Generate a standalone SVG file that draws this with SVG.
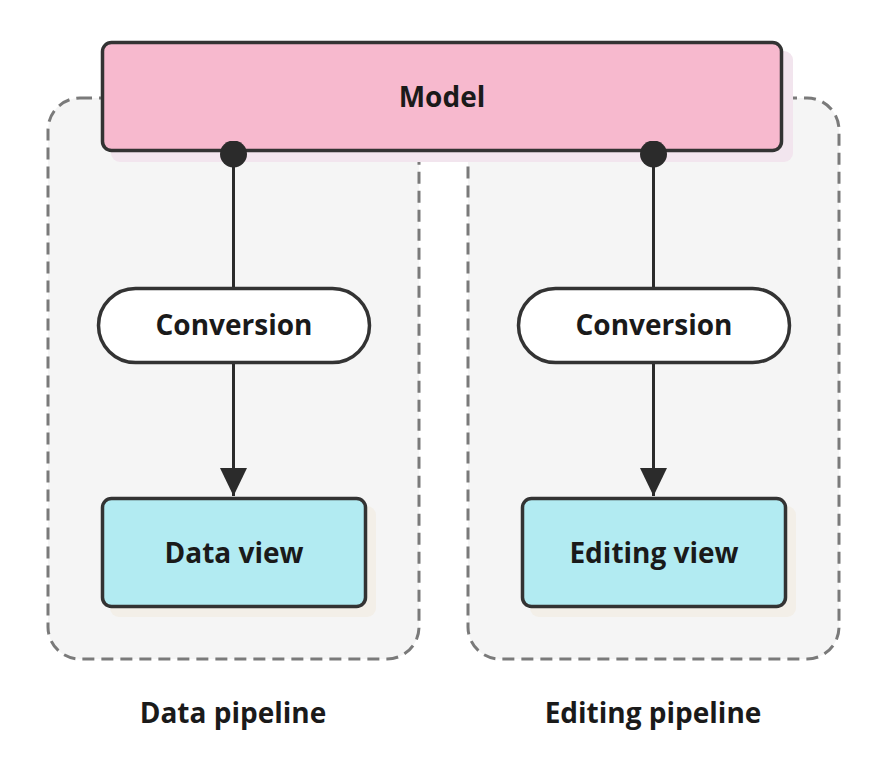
<svg xmlns="http://www.w3.org/2000/svg" width="888" height="762" viewBox="0 0 888 762">
<defs>
<style>
.container{fill:#f5f5f5;stroke:#7a7a7a;stroke-width:3;stroke-dasharray:12 7}
.node{stroke:#333333;stroke-width:3.5}
.label{font-family:"Open Sans","Noto Sans",sans-serif;font-weight:700;font-size:28px;fill:#1a1a1a;text-anchor:middle;dominant-baseline:central}
.edge{stroke:#2b2b2b;stroke-width:3;fill:none}
</style>
<marker id="arrow" viewBox="0 0 28 27" refX="28" refY="13.5" markerWidth="28" markerHeight="27" markerUnits="userSpaceOnUse" orient="auto">
<path d="M0,0 L28,13.5 L0,27 Z" fill="#2b2b2b"/>
</marker>
<marker id="dot" viewBox="0 0 27 27" refX="13.5" refY="13.5" markerWidth="27" markerHeight="27" markerUnits="userSpaceOnUse">
<circle cx="13.5" cy="13.5" r="13.5" fill="#2b2b2b"/>
</marker>
</defs>
<rect width="888" height="762" fill="#ffffff"/>
<g id="data-pipeline">
<rect class="container" x="48" y="98" width="371" height="561" rx="32"/>
<text class="label" x="233" y="712">Data pipeline</text>
</g>
<g id="editing-pipeline">
<rect class="container" x="468" y="98" width="371" height="561" rx="32"/>
<text class="label" x="653" y="712">Editing pipeline</text>
</g>
<g id="model">
<rect x="111" y="51" width="682" height="111" rx="9" fill="#f2e5ee"/>
<rect class="node" x="102.5" y="42.5" width="679" height="108" rx="9" fill="#f7b9ce"/>
<text class="label" x="442" y="96">Model</text>
</g>
<g id="data-view">
<rect x="110" y="506" width="266" height="111" rx="9" fill="#f3efe8"/>
<rect class="node" x="102.5" y="498.5" width="263" height="108" rx="9" fill="#b2ebf2"/>
<text class="label" x="234" y="552">Data view</text>
</g>
<g id="editing-view">
<rect x="530" y="506" width="266" height="111" rx="9" fill="#f3efe8"/>
<rect class="node" x="522.5" y="498.5" width="263" height="108" rx="9" fill="#b2ebf2"/>
<text class="label" x="654" y="552">Editing view</text>
</g>
<g id="connectors">
<path class="edge" d="M233.5,154 V288" marker-start="url(#dot)"/>
<path class="edge" d="M233.5,362 V496" marker-end="url(#arrow)"/>
<path class="edge" d="M653.5,154 V288" marker-start="url(#dot)"/>
<path class="edge" d="M653.5,362 V496" marker-end="url(#arrow)"/>
</g>
<g id="conversion-left">
<rect class="node" x="98.5" y="288.5" width="271" height="74" rx="37" fill="#ffffff"/>
<text class="label" x="234" y="324">Conversion</text>
</g>
<g id="conversion-right">
<rect class="node" x="518.5" y="288.5" width="271" height="74" rx="37" fill="#ffffff"/>
<text class="label" x="654" y="324">Conversion</text>
</g>
</svg>
